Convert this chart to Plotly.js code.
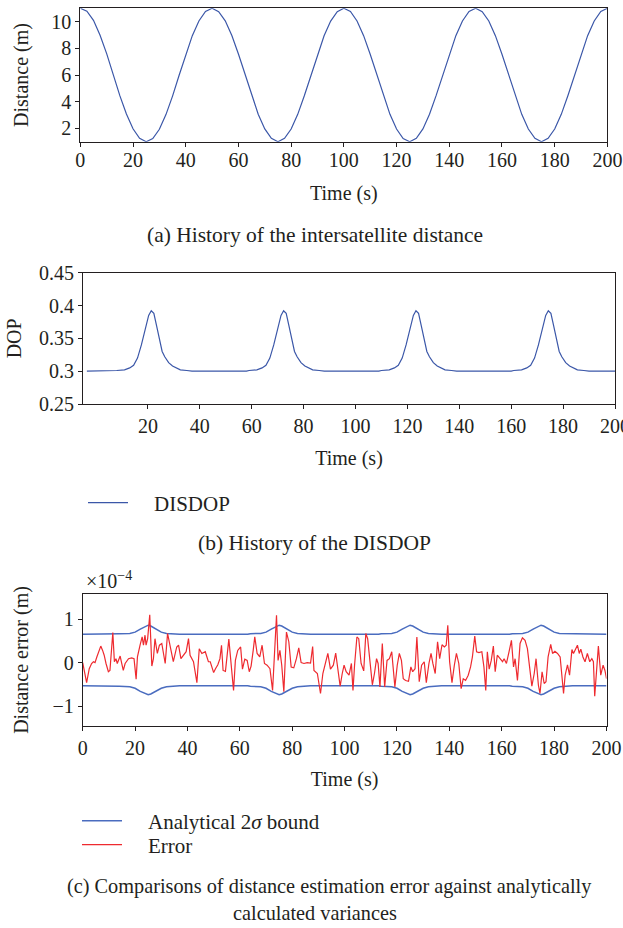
<!DOCTYPE html>
<html>
<head>
<meta charset="utf-8">
<script src="https://cdn.plot.ly/plotly-3.0.1.min.js"></script>
<style>html,body{margin:0;padding:0;background:#fff;}#chart{width:623px;height:928px;}</style>
</head>
<body>
<div id="chart"></div>
<script>
// ---- Panel (a): intersatellite distance ----
const timeA = [0,2.5,5,7.5,10,12.5,15,17.5,20,22.5,25,27.5,30,32.5,35,37.5,40,42.5,45,47.5,50,
  52.5,55,57.5,60,62.5,65,67.5,70,72.5,75,77.5,80,82.5,85,87.5,90,92.5,95,97.5,100,
  102.5,105,107.5,110,112.5,115,117.5,120,122.5,125,127.5,130,132.5,135,137.5,140,142.5,145,147.5,150,
  152.5,155,157.5,160,162.5,165,167.5,170,172.5,175,177.5,180,182.5,185,187.5,190,192.5,195,197.5,200];
const distance = [11.0,10.78,10.1,8.98,7.6,6.02,4.45,3.08,1.97,1.26,1.0,1.24,1.93,3.03,4.42,5.98,7.55,8.95,10.05,10.76,11.0,
  10.75,10.06,8.96,7.57,6.01,4.46,3.06,1.96,1.25,1.0,1.25,1.95,3.05,4.44,5.99,7.54,8.94,10.04,10.75,11.0,
  10.76,10.05,8.95,7.56,6.0,4.45,3.05,1.95,1.24,1.0,1.25,1.96,3.06,4.45,6.01,7.56,8.95,10.05,10.76,11.0,
  10.75,10.05,8.95,7.55,6.0,4.44,3.05,1.95,1.25,1.0,1.25,1.95,3.05,4.45,6.0,7.55,8.95,10.05,10.76,11.0];

// ---- Panel (b): DISDOP ----
const timeB = [-3.5,7,8,11,13,14.5,16,17.5,19,20.3,21.3,22.3,23.3,24.5,25.5,26.5,28,29.5,31,32.5,35,37,
  58,59,62,64,65.5,67,68.5,70,71.3,72.3,73.3,74.3,75.5,76.5,77.5,79,80.5,82,83.5,86,88,
  109,110,113,115,116.5,118,119.5,121,122.3,123.3,124.3,125.3,126.5,127.5,128.5,130,131.5,133,134.5,137,139,
  160,161,164,166,167.5,169,170.5,172,173.3,174.3,175.3,176.3,177.5,178.5,179.5,181,182.5,184,185.5,188,190,200];
const dop = [0.3,0.3,0.301,0.302,0.305,0.309,0.32,0.34,0.365,0.385,0.392,0.388,0.37,0.35,0.33,0.322,0.313,0.308,0.305,0.302,0.301,0.3,
  0.3,0.301,0.302,0.305,0.309,0.32,0.34,0.365,0.385,0.392,0.388,0.37,0.35,0.33,0.322,0.313,0.308,0.305,0.302,0.301,0.3,
  0.3,0.301,0.302,0.305,0.309,0.32,0.34,0.365,0.385,0.392,0.388,0.37,0.35,0.33,0.322,0.313,0.308,0.305,0.302,0.301,0.3,
  0.3,0.301,0.302,0.305,0.309,0.32,0.34,0.365,0.385,0.392,0.388,0.37,0.35,0.33,0.322,0.313,0.308,0.305,0.302,0.301,0.3,0.3];

// ---- Panel (c): distance error (units of 1e-4 m) ----
const timeBound = [0,13,14,18,20,22,24,25,26,28,30,32,36,37,
  63,64,68,70,72,74,75,76,78,80,82,86,87,
  113,114,118,120,122,124,125,126,128,130,132,136,137,
  163,164,168,170,172,174,175,176,178,180,182,186,187,200];
const boundUpper = [0.65,0.65,0.665,0.67,0.70,0.77,0.84,0.86,0.84,0.77,0.70,0.67,0.665,0.65,
  0.65,0.665,0.67,0.70,0.77,0.84,0.86,0.84,0.77,0.70,0.67,0.665,0.65,
  0.65,0.665,0.67,0.70,0.77,0.84,0.86,0.84,0.77,0.70,0.67,0.665,0.65,
  0.65,0.665,0.67,0.70,0.77,0.84,0.86,0.84,0.77,0.70,0.67,0.665,0.65,0.65];
const boundLower = [-0.53,-0.53,-0.545,-0.555,-0.59,-0.66,-0.72,-0.74,-0.72,-0.66,-0.59,-0.555,-0.545,-0.53,
  -0.53,-0.545,-0.555,-0.59,-0.66,-0.72,-0.74,-0.72,-0.66,-0.59,-0.555,-0.545,-0.53,
  -0.53,-0.545,-0.555,-0.59,-0.66,-0.72,-0.74,-0.72,-0.66,-0.59,-0.555,-0.545,-0.53,
  -0.53,-0.545,-0.555,-0.59,-0.66,-0.72,-0.74,-0.72,-0.66,-0.59,-0.555,-0.545,-0.53,-0.53];
const timeErr = [0,1.5,2.5,3.4,4.1,4.7,5.4,6.2,6.9,7.6,8.2,8.9,9.8,10.4,11.5,12.1,12.7,13.2,14.3,14.9,15.5,16.2,17.5,18.7,19.6,
  20.4,20.9,21.9,22.7,23.2,23.8,24.2,24.8,25.6,26.4,27,27.6,28.5,29.3,30.2,31.5,32.4,33.1,34.6,35.9,36.6,37.5,38.5,39.5,
  40.4,41,42.3,43.6,44.5,45.5,46.8,48,48.7,49.7,50,50.7,51.6,52.4,53,53.6,54.5,55.8,56.7,57.6,58.3,59.2,
  60.3,61,61.9,62.8,63.6,64.3,65.1,65.7,66.6,67.6,68.5,69.4,70.4,71.5,72.5,73.2,74,74.6,75.3,76,76.8,77.8,78.7,79.6,
  80.6,81.6,82.5,83.4,84.5,85.7,87,87.8,88.3,89.6,90.8,91.7,92.7,93.6,94.6,95.7,96.6,97.6,98.3,99.1,99.8,
  100.6,101.7,102.6,103.2,103.8,104.7,105.4,106.3,107.3,108.1,108.8,109.9,110.6,111.4,112.2,112.8,113.5,114.4,115.3,116.2,117.1,118,118.6,119.2,
  120.1,120.9,121.7,122.4,123.3,124.4,125.3,126,126.9,127.6,128.5,129.4,130.4,131.2,132.2,133,133.7,134.6,135.5,136.3,137.2,138.1,138.8,139.4,
  140.1,141,141.9,142.7,143.6,144.5,145.3,146.2,147.2,148.1,148.8,149.7,150.4,151.3,152.4,153.2,153.9,154.5,155.2,156,156.8,157.5,158.3,159.4,
  160.3,160.9,161.8,162.8,163.7,164.5,165.1,166,167,167.9,168.9,169.8,170.7,171.5,172.4,173.1,174,174.6,175.4,176.2,176.9,177.7,178.7,179.4,
  180.3,181.3,182.3,182.8,183.6,184.2,185.1,185.9,186.8,187.4,188,188.9,189.6,190.2,191,191.8,192.7,193.6,194.4,195,195.5,196.3,196.9,197.8,198.7,199.4,200];
const errorVal = [0,-0.46,-0.14,-0.02,0.02,0,0.13,0.28,0.38,0.28,0.17,-0.02,-0.21,-0.18,0.69,0.02,0.09,-0.02,0.15,-0.02,-0.18,-0.02,0.09,0.11,0.09,
  -0.38,0.13,0.4,0.59,0.4,0.63,0.4,0.55,1.1,-0.08,0.09,0.55,0.21,0.4,0.44,-0.02,0.67,0.48,0.02,0.36,0.4,0.09,0.17,0.25,
  0.55,0.17,0.02,-0.46,0.32,0.21,0.25,0.02,0.02,-0.21,-0.23,-0.14,-0.05,0.09,0.4,-0.18,-0.2,0.54,0.02,-0.64,0.05,0.28,
  0.36,-0.15,0.08,0.05,-0.21,-0.08,0.28,0.59,0.21,0.13,0.4,-0.02,-0.06,-0.14,-0.64,0.09,1.09,0.05,0.28,-0.06,-0.67,0.7,0.48,-0.1,
  -0.12,0.09,0.34,0,-0.02,0,-0.01,0.37,-0.18,-0.25,-0.71,-0.25,-0.02,0.21,-0.15,-0.06,0.22,-0.29,-0.54,-0.25,-0.06,
  -0.21,-0.29,-0.02,-0.64,-0.06,0.59,0.55,-0.02,-0.19,0.67,0.55,-0.12,-0.51,-0.25,0.09,-0.02,-0.56,0.44,-0.56,0.05,0.09,0.25,-0.1,-0.56,
  -0.06,0.21,0.05,-0.37,-0.41,-0.43,-0.1,-0.21,-0.14,0.59,-0.44,-0.06,0.02,-0.46,-0.02,0.21,-0.02,-0.25,0.48,0.09,0.41,0.36,0.4,0.86,
  0.02,-0.46,-0.06,0.21,-0.02,-0.6,-0.37,-0.41,-0.29,-0.1,0.13,0.61,0.25,0.23,0.25,-0.1,-0.64,0.25,-0.15,0.05,0.38,-0.21,0.17,0.09,
  0.02,0.09,-0.02,0.25,0.51,-0.1,0.09,-0.41,0.44,0.57,0.51,0.32,-0.21,-0.54,-0.25,0.09,-0.52,-0.71,-0.21,-0.48,-0.44,0.13,0.42,0.21,
  0.26,0.21,0.13,-0.21,-0.71,-0.29,-0.05,-0.29,0.3,0.21,0.28,0.4,0.21,0.31,0.13,0.02,0.21,0.02,0.09,0.02,-0.77,-0.02,0.38,-0.29,-0.06,-0.18,-0.37];

const ticksTime = [0,20,40,60,80,100,120,140,160,180,200];
const ticksTimeB = [20,40,60,80,100,120,140,160,180,200];
const ticksDist = [2,4,6,8,10];
const ticksDop = [0.25,0.3,0.35,0.4,0.45];
const ticksErr = [-1,0,1];

const W = 623, H = 928;
const FONT = 'Liberation Serif, Times New Roman, serif';
const TXT = '#231f20';
const BLUE = '#3b57a8';
const BLUE2 = '#4a6cbf';
const RED = '#ee2a2f';
const GAP = '\u2003'; // spacing between legend line and its label

function px(x0, x1){ return [x0/W, x1/W]; }
function py(top, bottom){ return [1-bottom/H, 1-top/H]; }

function axisBase(extra){
  return Object.assign({
    showline:true, mirror:true, linecolor:TXT, linewidth:1,
    ticks:'outside', ticklen:4, tickwidth:1, tickcolor:TXT,
    showgrid:false, zeroline:false, ticklabeloverflow:'allow',
    tickfont:{family:FONT, size:20, color:TXT}
  }, extra);
}
function ttl(text, standoff){ return {text:text, font:{family:FONT,size:20,color:TXT}, standoff:standoff}; }
function leg(x, y){
  return {x:x/W, y:1-y/H, xanchor:'left', yanchor:'middle', bgcolor:'rgba(0,0,0,0)',
    font:{family:FONT,size:21,color:TXT}, itemwidth:40, borderwidth:0};
}

const traces = [
  {x:timeA, y:distance, type:'scatter', mode:'lines', line:{color:BLUE, width:1.2}, xaxis:'x', yaxis:'y', showlegend:false, name:'Distance'},
  {x:timeB, y:dop, type:'scatter', mode:'lines', line:{color:BLUE, width:1.2}, xaxis:'x2', yaxis:'y2', name:GAP+'DISDOP', legend:'legend'},
  {x:timeBound, y:boundUpper, type:'scatter', mode:'lines', line:{color:BLUE2, width:1.5}, xaxis:'x3', yaxis:'y3', name:GAP+'Analytical 2<i>σ</i> bound', legend:'legend2'},
  {x:timeBound, y:boundLower, type:'scatter', mode:'lines', line:{color:BLUE2, width:1.5}, xaxis:'x3', yaxis:'y3', name:'lower', showlegend:false},
  {x:timeErr, y:errorVal, type:'scatter', mode:'lines', line:{color:RED, width:1.2}, xaxis:'x3', yaxis:'y3', name:GAP+'Error', legend:'legend3'}
];

const layout = {
  width:W, height:H,
  margin:{l:0, r:0, t:0, b:0},
  paper_bgcolor:'#fff', plot_bgcolor:'#fff',
  font:{family:FONT, size:20, color:TXT},
  xaxis: axisBase({domain:px(80.3,607.4), range:[0,200], tickvals:ticksTime, anchor:'y', ticklabelstandoff:-4, title:ttl('Time (s)',16)}),
  yaxis: axisBase({domain:py(8.3,141.7), range:[1,11], tickvals:ticksDist, anchor:'x', title:ttl('Distance (m)',17)}),
  xaxis2: axisBase({domain:px(83,615), range:[-5,200], tickvals:ticksTimeB, anchor:'y2', title:ttl('Time (s)',14)}),
  yaxis2: axisBase({domain:py(272.7,404), range:[0.25,0.45], tickvals:ticksDop, anchor:'x2', title:ttl('DOP',11)}),
  xaxis3: axisBase({domain:px(82.7,606.5), range:[0,200], tickvals:ticksTime, anchor:'y3', title:ttl('Time (s)',14)}),
  yaxis3: axisBase({domain:py(594.3,725.7), range:[-1.45,1.57], tickvals:ticksErr, ticktext:['−1','0','1'], anchor:'x3', title:ttl('Distance error (m)',18)}),
  legend: leg(83, 503),
  legend2: leg(77, 821),
  legend3: leg(77, 845),
  annotations:[
    {text:'(a) History of the intersatellite distance', xref:'paper', yref:'paper', x:315/W, y:1-235/H, showarrow:false, xanchor:'center', yanchor:'middle', font:{family:FONT,size:21.5,color:TXT}},
    {text:'(b) History of the DISDOP', xref:'paper', yref:'paper', x:314/W, y:1-543/H, showarrow:false, xanchor:'center', yanchor:'middle', font:{family:FONT,size:21.5,color:TXT}},
    {text:'×10<sup>−4</sup>', xref:'paper', yref:'paper', x:84/W, y:1-580/H, showarrow:false, xanchor:'left', yanchor:'middle', font:{family:FONT,size:20,color:TXT}},
    {text:'(c) Comparisons of distance estimation error against analytically', xref:'paper', yref:'paper', x:330/W, y:1-886/H, showarrow:false, xanchor:'center', yanchor:'middle', font:{family:FONT,size:20.3,color:TXT}},
    {text:'calculated variances', xref:'paper', yref:'paper', x:315/W, y:1-913/H, showarrow:false, xanchor:'center', yanchor:'middle', font:{family:FONT,size:20.3,color:TXT}}
  ]
};

Plotly.newPlot('chart', traces, layout, {staticPlot:true, displayModeBar:false});
</script>
</body>
</html>
